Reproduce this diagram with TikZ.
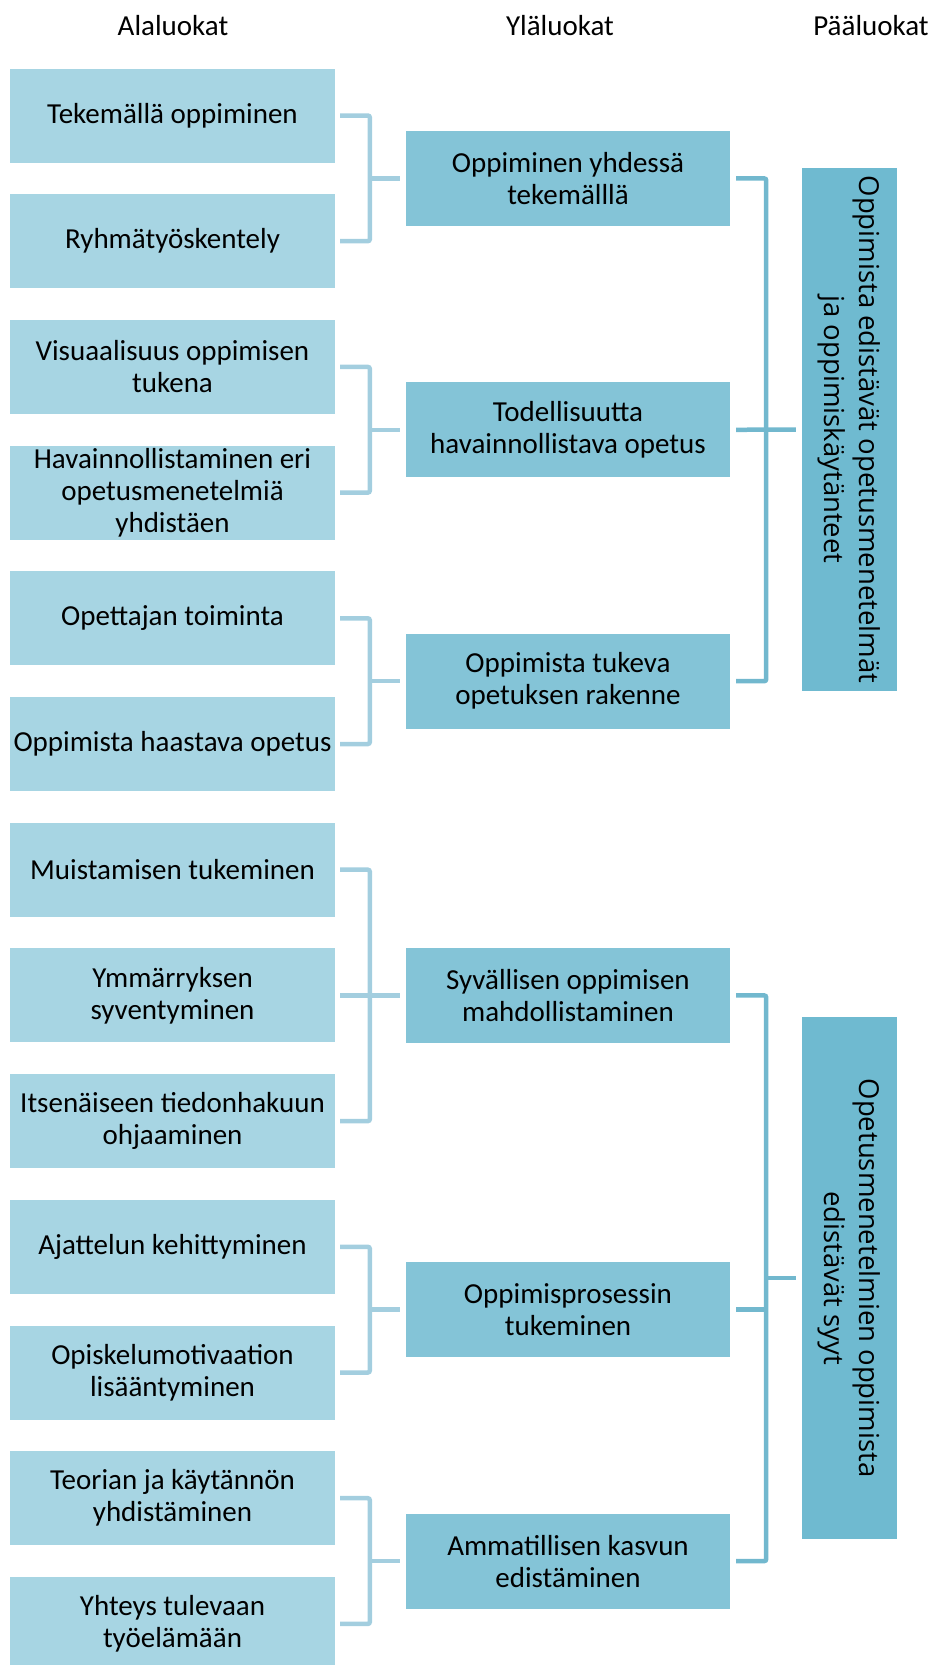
\documentclass[tikz,border=0pt]{standalone}
\usepackage{fontspec}
\setmainfont{Carlito}
\newfontfamily\sidefont{Open Sans}

\definecolor{luokAla}{HTML}{A7D5E3}
\definecolor{luokYla}{HTML}{84C4D7}
\definecolor{luokPaa}{HTML}{6FBAD0}
\definecolor{linkAla}{HTML}{A3CEDF}
\definecolor{linkPaa}{HTML}{72B8CE}

\begin{document}
\begin{tikzpicture}[x=1pt,y=-1pt,font=\fontsize{29}{32}\selectfont,
  ala/.style={fill=luokAla,minimum width=325,minimum height=94,inner sep=0,align=center},
  yla/.style={fill=luokYla,minimum width=324,minimum height=95,inner sep=0,align=center},
  paa/.style={fill=luokPaa,rotate=-90,minimum width=523,minimum height=95,inner sep=0,
    align=center,font=\sidefont\fontsize{27.5}{35}\selectfont},
  alaline/.style={draw=linkAla,line width=4.5,rounded corners=2},
  paaline/.style={draw=linkPaa,line width=4.5,rounded corners=2}]

  \useasboundingbox (0,0) rectangle (929,1665);

  % Headers
  \node[anchor=base] (hAla) at (173,35) {Alaluokat};
  \node[anchor=base] (hYla) at (560,35) {Yläluokat};
  \node[anchor=base] (hPaa) at (871,35) {Pääluokat};

  % Alaluokat
  \node[ala] (a1) at (172.5,115.5) {Tekemällä oppiminen};
  \node[ala] (a2) at (172.5,241.2) {Ryhmätyöskentely};
  \node[ala] (a3) at (172.5,366.9) {Visuaalisuus oppimisen\\tukena};
  \node[ala] (a4) at (172.5,492.6) {Havainnollistaminen eri\\opetusmenetelmiä\\yhdistäen};
  \node[ala] (a5) at (172.5,618.3) {Opettajan toiminta};
  \node[ala] (a6) at (172.5,744.0) {Oppimista haastava opetus};
  \node[ala] (a7) at (172.5,869.7) {Muistamisen tukeminen};
  \node[ala] (a8) at (172.5,995.4) {Ymmärryksen\\syventyminen};
  \node[ala] (a9) at (172.5,1121.1) {Itsenäiseen tiedonhakuun\\ohjaaminen};
  \node[ala] (a10) at (172.5,1246.8) {Ajattelun kehittyminen};
  \node[ala] (a11) at (172.5,1372.5) {Opiskelumotivaation\\lisääntyminen};
  \node[ala] (a12) at (172.5,1498.2) {Teorian ja käytännön\\yhdistäminen};
  \node[ala] (a13) at (172.5,1623.9) {Yhteys tulevaan\\työelämään};

  % Yläluokat
  \node[yla] (m1) at (568,178.4) {Oppiminen yhdessä\\tekemälllä};
  \node[yla] (m2) at (568,429.8) {Todellisuutta\\havainnollistava opetus};
  \node[yla] (m3) at (568,681.2) {Oppimista tukeva\\opetuksen rakenne};
  \node[yla] (m4) at (568,995.4) {Syvällisen oppimisen\\mahdollistaminen};
  \node[yla] (m5) at (568,1309.7) {Oppimisprosessin\\tukeminen};
  \node[yla] (m6) at (568,1561.1) {Ammatillisen kasvun\\edistäminen};

  % Pääluokat (rotated, so south is the left side)
  \node[paa] (p1) at (849.5,429.5) {Oppimista edistävät opetusmenetelmät\\ja oppimiskäytänteet};
  \node[paa,minimum width=522] (p2) at (849.5,1278) {Opetusmenetelmien oppimista\\edistävät syyt};

  % Brackets, alaluokat to yläluokat
  \draw[alaline] ([xshift=5]a1.east) -| ([xshift=-36]m1.west) |- ([xshift=5]a2.east);
  \draw[alaline] ([xshift=-36]m1.west) -- ([xshift=-6]m1.west);
  \draw[alaline] ([xshift=5]a3.east) -| ([xshift=-36]m2.west) |- ([xshift=5]a4.east);
  \draw[alaline] ([xshift=-36]m2.west) -- ([xshift=-6]m2.west);
  \draw[alaline] ([xshift=5]a5.east) -| ([xshift=-36]m3.west) |- ([xshift=5]a6.east);
  \draw[alaline] ([xshift=-36]m3.west) -- ([xshift=-6]m3.west);
  \draw[alaline] ([xshift=5]a7.east) -| ([xshift=-36]m4.west) |- ([xshift=5]a9.east);
  \draw[alaline] ([xshift=5]a8.east) -- ([xshift=-6]m4.west);
  \draw[alaline] ([xshift=5]a10.east) -| ([xshift=-36]m5.west) |- ([xshift=5]a11.east);
  \draw[alaline] ([xshift=-36]m5.west) -- ([xshift=-6]m5.west);
  \draw[alaline] ([xshift=5]a12.east) -| ([xshift=-36]m6.west) |- ([xshift=5]a13.east);
  \draw[alaline] ([xshift=-36]m6.west) -- ([xshift=-6]m6.west);

  % Brackets, yläluokat to pääluokat
  \draw[paaline] ([xshift=6]m1.east) -| ([xshift=36]m3.east) -- ([xshift=6]m3.east);
  \draw[paaline] ([xshift=6]m2.east) -- ([xshift=-6]p1.south);
  \draw[paaline] ([xshift=6]m4.east) -| ([xshift=36]m6.east) -- ([xshift=6]m6.east);
  \draw[paaline] ([xshift=6]m5.east) -- ([xshift=36]m5.east);
  \draw[paaline] ([xshift=-36]p2.south) -- ([xshift=-6]p2.south);

\end{tikzpicture}
\end{document}
